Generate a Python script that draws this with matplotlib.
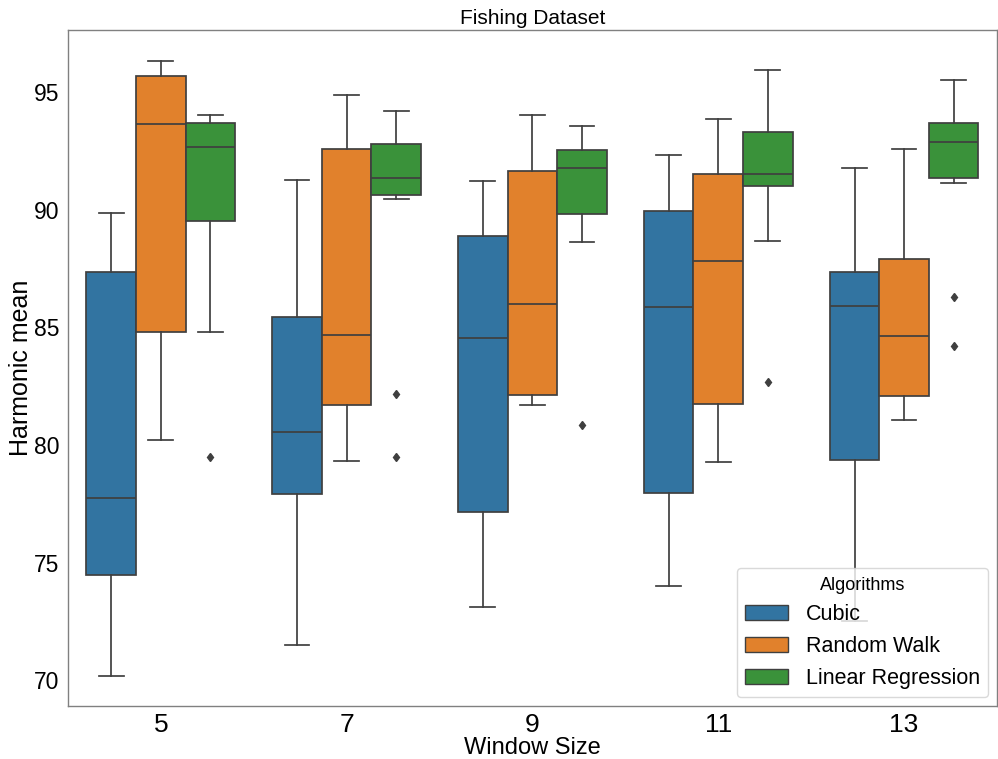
import matplotlib
matplotlib.use("Agg")
import matplotlib.pyplot as plt
from matplotlib.patches import Patch

plt.rcParams['font.family'] = ['Liberation Sans', 'DejaVu Sans']

window_sizes = ["5", "7", "9", "11", "13"]
algorithms = ["Cubic", "Random Walk", "Linear Regression"]
colors = ["#3274a1", "#e1812c", "#3a923a"]

# per algorithm, per window size: (whislo, q1, median, q3, whishi)
cubic = [
    (70.17, 74.45, 77.73, 87.35, 89.88),
    (71.49, 77.90, 80.56, 85.45, 91.28),
    (73.10, 77.14, 84.56, 88.88, 91.23),
    (74.01, 77.96, 85.86, 89.94, 92.31),
    (72.50, 79.34, 85.92, 87.37, 91.76),
]
random_walk = [
    (80.20, 84.78, 93.65, 95.68, 96.33),
    (79.32, 81.68, 84.66, 92.60, 94.87),
    (81.68, 82.13, 85.97, 91.64, 94.03),
    (79.26, 81.75, 87.81, 91.50, 93.86),
    (81.07, 82.06, 84.63, 87.90, 92.58),
]
linear_reg = [
    (84.81, 89.53, 92.68, 93.68, 94.03),
    (90.46, 90.62, 91.36, 92.80, 94.20),
    (88.62, 89.83, 91.78, 92.52, 93.55),
    (88.66, 91.00, 91.53, 93.30, 95.94),
    (91.13, 91.33, 92.86, 93.68, 95.52),
]
cubic_out = [[], [], [], [], []]
random_walk_out = [[], [], [], [], []]
linear_reg_out = [[79.47], [82.15, 79.48], [80.85], [82.66], [86.28, 84.20]]

series = [(cubic, cubic_out), (random_walk, random_walk_out), (linear_reg, linear_reg_out)]

fig = plt.figure(figsize=(9.98, 7.59), dpi=100)
ax = fig.add_axes([0.068, 0.0698, 0.931, 0.8907])

line_col = "#3f3f3f"
width = 0.8 / 3
for k, (vals, outs) in enumerate(series):
    stats = []
    for i, v in enumerate(vals):
        stats.append({
            "whislo": v[0], "q1": v[1], "med": v[2], "q3": v[3], "whishi": v[4],
            "fliers": outs[i],
        })
    positions = [i - 0.4 + width * (k + 0.5) for i in range(len(vals))]
    ax.bxp(stats, positions=positions, widths=width, patch_artist=True,
           showfliers=True,
           boxprops=dict(facecolor=colors[k], edgecolor=line_col, linewidth=1.25),
           medianprops=dict(color=line_col, linewidth=1.25),
           whiskerprops=dict(color=line_col, linewidth=1.25),
           capprops=dict(color=line_col, linewidth=1.25),
           flierprops=dict(marker="d", markersize=4.5, markerfacecolor=line_col,
                           markeredgecolor=line_col))

ax.set_xlim(-0.5, len(window_sizes) - 0.5)
ax.set_ylim(68.9, 97.64)
ax.set_xticks(range(len(window_sizes)))
ax.set_xticklabels(window_sizes)
ax.set_yticks([70, 75, 80, 85, 90, 95])
ax.tick_params(axis="x", labelsize=19, length=0, pad=5)
ax.tick_params(axis="y", labelsize=16.5, length=0, pad=6)
for s in ax.spines.values():
    s.set_color("#808080")
    s.set_linewidth(1.0)

ax.set_title("Fishing Dataset", fontsize=15, pad=4)
ax.set_xlabel("Window Size", fontsize=17, labelpad=0)
ax.set_ylabel("Harmonic mean", fontsize=18, labelpad=1)

handles = [Patch(facecolor=c, edgecolor=line_col, label=a) for a, c in zip(algorithms, colors)]
leg = ax.legend(handles=handles, title="Algorithms", loc="lower right",
                fontsize=15.5, title_fontsize=13, frameon=True, borderaxespad=0.4)
leg.get_frame().set_edgecolor("#d0d0d0")

fig.savefig("out.png", dpi=100)
